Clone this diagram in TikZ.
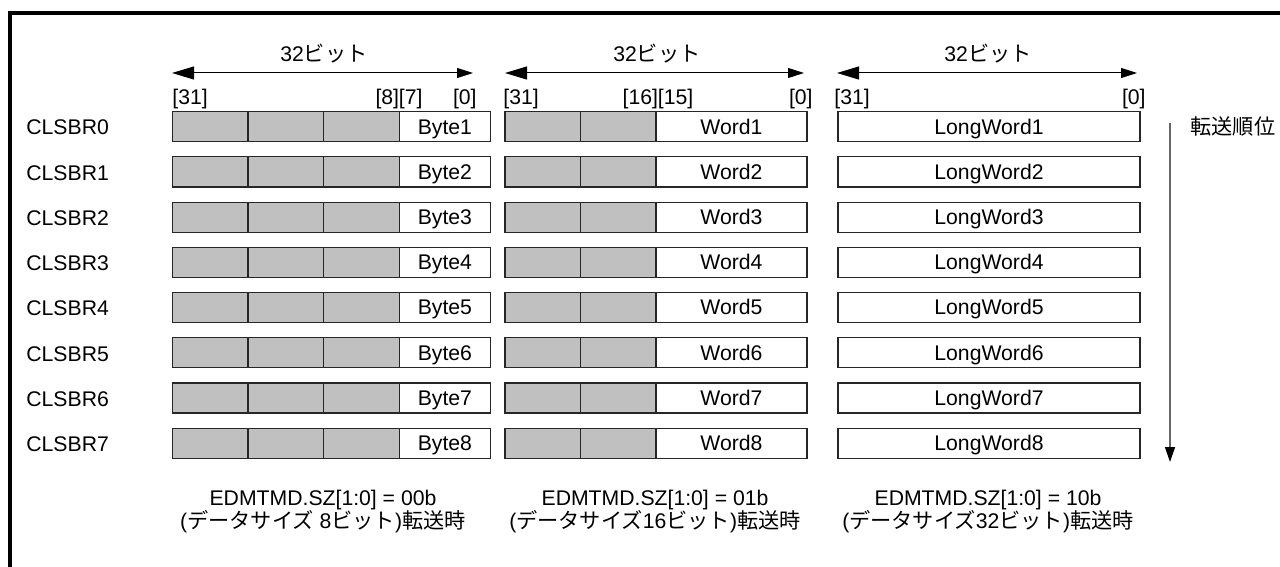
\documentclass[tikz,border=0pt]{standalone}
\usepackage{fontspec}
\setmainfont{Liberation Sans}
\newfontfamily\jp{Noto Sans CJK JP}
\usetikzlibrary{positioning}
\usetikzlibrary{arrows.meta}
\definecolor{cellgray}{RGB}{192,192,192}

\tikzset{
  cell/.style={draw=black!85, line width=0.6pt, minimum height=15pt, inner sep=0pt, outer sep=0pt, anchor=west, text height=1.6ex, text depth=0.2ex},
  graycell/.style={cell, fill=cellgray, minimum width=37.85pt},
  datacell/.style={cell, fill=white},
  bitlabel/.style={inner sep=0pt},
  widtharrow/.style={line width=0.5pt, {Triangle[length=11pt,width=6.5pt]}-{Triangle[length=8pt,width=5pt]}},
}

\begin{document}
\begin{tikzpicture}[x=0.5pt, y=-0.5pt, font=\fontsize{10.6pt}{11.5pt}\selectfont]
    \useasboundingbox (0,0) rectangle (1280,567);
    \clip (0,0) rectangle (1280,567);
    \draw[line width=2pt] (9.5,1300) -- (9.5,13.5) -- (1400,13.5);

    % 32-bit width arrows
    \coordinate (bL) at (172,73);
    \coordinate (bR) at (473,73);
    \coordinate (wL) at (505,73);
    \coordinate (wR) at (804,73);
    \coordinate (lL) at (837,73);
    \coordinate (lR) at (1137,73);
    \draw[widtharrow] (bL) -- (bR);
    \draw[widtharrow] (wL) -- (wR);
    \draw[widtharrow] (lL) -- (lR);
    \node (bw) at (324,54) {32{\jp ビット}};
    \node (ww) at (657,54) {32{\jp ビット}};
    \node (lw) at (988,54) {32{\jp ビット}};

    % bit numbers
    \node[bitlabel, anchor=west] (b31) at (172,99) {[31]};
    \node[bitlabel, anchor=east] (b8) at (399.5,99) {[8]};
    \node[bitlabel, anchor=west] (b7) at (398.5,99) {[7]};
    \node[bitlabel, anchor=east] (b0) at (477,99) {[0]};
    \node[bitlabel, anchor=west] (w31) at (503,99) {[31]};
    \node[bitlabel, anchor=east] (w16) at (658.5,99) {[16]};
    \node[bitlabel, anchor=west] (w15) at (657.5,99) {[15]};
    \node[bitlabel, anchor=east] (w0) at (813,99) {[0]};
    \node[bitlabel, anchor=west] (l31) at (834,99) {[31]};
    \node[bitlabel, anchor=east] (l0) at (1146,99) {[0]};

    % registers
    \foreach \i [evaluate=\i as \y using 126.7+45.2*\i, evaluate=\i as \n using int(\i+1)] in {0,...,7} {
        \node[bitlabel, anchor=west] (reg\i) at (26,\y+1) {CLSBR\i};
        \node[graycell] (ba\i) at (172.3,\y) {};
        \node[graycell, right=0pt of ba\i] (bb\i) {};
        \node[graycell, right=0pt of bb\i] (bc\i) {};
        \node[datacell, minimum width=45.5pt, right=0pt of bc\i] (byte\i) {Byte\n};
        \node[graycell, minimum width=37.75pt] (wa\i) at (505,\y) {};
        \node[graycell, minimum width=37.75pt, right=0pt of wa\i] (wb\i) {};
        \node[datacell, minimum width=75.5pt, right=0pt of wb\i] (word\i) {Word\n};
        \node[datacell, minimum width=151pt] (long\i) at (838,\y) {LongWord\n};
    }

    % transfer order
    \coordinate (ordTop) at (1170,123);
    \coordinate (ordBot) at (1170,462);
    \draw[line width=0.7pt, draw=black!60, -{Triangle[length=7.5pt,width=5pt,color=black]}] (ordTop) -- (ordBot);
    \node[bitlabel, anchor=west] (order) at (1190,126.5) {\jp 転送順位};

    % size settings
    \node[align=center] (szbyte) at (323,512) {EDMTMD.SZ[1:0] = 00b\\({\jp データサイズ} 8{\jp ビット}){\jp 転送時}};
    \node[align=center] (szword) at (655,512) {EDMTMD.SZ[1:0] = 01b\\({\jp データサイズ}16{\jp ビット}){\jp 転送時}};
    \node[align=center] (szlong) at (988,512) {EDMTMD.SZ[1:0] = 10b\\({\jp データサイズ}32{\jp ビット}){\jp 転送時}};
\end{tikzpicture}
\end{document}
